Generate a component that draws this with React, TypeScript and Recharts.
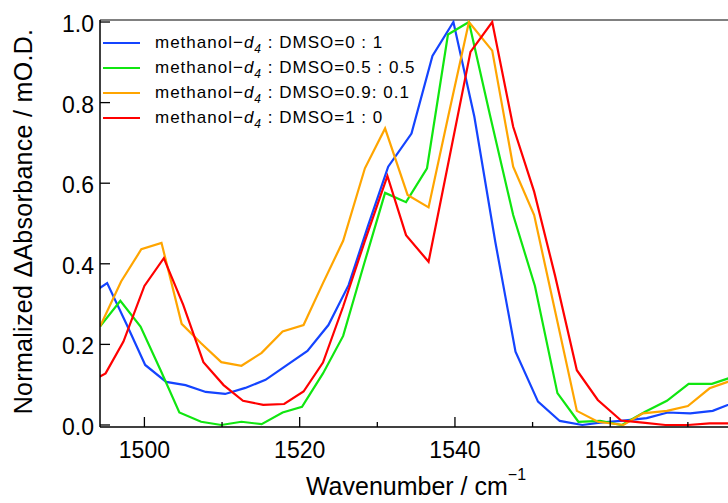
import { Line, LineChart, ReferenceLine, XAxis, YAxis } from 'recharts';

const FONT = '"Liberation Sans", Arial, sans-serif';

// wavenumber (cm^-1) / normalized ΔAbsorbance
const waveBlue = [
  1492.7, 1495.2, 1497.7, 1500.1, 1502.8, 1505.3, 1507.9, 1510.4, 1513.0, 1515.6, 1518.3,
  1521.0, 1523.7, 1526.3, 1528.8, 1531.4, 1534.4, 1537.1, 1539.8, 1542.5, 1545.2, 1547.8,
  1550.7, 1553.5, 1556.4, 1558.7, 1561.7, 1564.7, 1567.4, 1570.3, 1573.2, 1576.1,
];
const absBlue = [
  0.32, 0.352, 0.25, 0.149, 0.107, 0.099, 0.082, 0.077, 0.092, 0.112, 0.148,
  0.184, 0.248, 0.347, 0.494, 0.641, 0.723, 0.916, 1.0, 0.765, 0.454, 0.182,
  0.058, 0.01, 0.0, 0.006, 0.011, 0.017, 0.031, 0.029, 0.035, 0.057,
];

const waveGreen = [
  1494.3, 1496.9, 1499.5, 1502.1, 1504.5, 1507.3, 1509.9, 1512.5, 1515.1, 1517.8, 1520.3,
  1523.0, 1525.6, 1528.3, 1531.0, 1533.7, 1536.4, 1539.1, 1541.8, 1544.5, 1547.5, 1550.3,
  1553.2, 1555.9, 1558.7, 1561.5, 1564.5, 1567.3, 1570.1, 1573.1, 1575.9,
];
const absGreen = [
  0.245, 0.308, 0.244, 0.135, 0.031, 0.008, 0.0, 0.008, 0.002, 0.031, 0.045,
  0.128, 0.221, 0.4, 0.576, 0.553, 0.637, 0.969, 1.0, 0.77, 0.521, 0.345,
  0.079, 0.008, 0.01, 0.0, 0.033, 0.06, 0.102, 0.102, 0.12,
];

const waveOrange = [
  1494.3, 1497.0, 1499.6, 1502.2, 1504.8, 1507.3, 1509.9, 1512.5, 1515.1, 1517.8, 1520.5,
  1523.0, 1525.6, 1528.4, 1531.0, 1533.9, 1536.6, 1539.1, 1541.8, 1544.8, 1547.5, 1550.2,
  1553.2, 1555.7, 1558.4, 1561.7, 1564.2, 1567.3, 1570.0, 1572.8, 1575.7,
];
const absOrange = [
  0.245, 0.356, 0.436, 0.452, 0.251, 0.203, 0.156, 0.147, 0.179, 0.232, 0.248,
  0.352, 0.457, 0.637, 0.736, 0.571, 0.54, 0.763, 1.0, 0.929, 0.641, 0.521,
  0.256, 0.035, 0.008, 0.0, 0.029, 0.035, 0.047, 0.091, 0.111,
];

const waveRed = [
  1492.3, 1495.0, 1497.3, 1500.0, 1502.5, 1505.0, 1507.6, 1510.2, 1512.7, 1515.3, 1518.0,
  1520.5, 1523.0, 1525.6, 1528.4, 1531.3, 1533.7, 1536.6, 1539.3, 1542.0, 1544.8, 1547.5,
  1550.2, 1552.9, 1555.7, 1558.4, 1561.4, 1564.2, 1567.1, 1570.0, 1572.8, 1575.7,
];
const absRed = [
  0.1, 0.128, 0.207, 0.345, 0.414, 0.298, 0.156, 0.099, 0.06, 0.05, 0.052,
  0.083, 0.155, 0.294, 0.457, 0.618, 0.471, 0.405, 0.665, 0.926, 1.0, 0.74,
  0.579, 0.37, 0.136, 0.062, 0.011, 0.006, 0.0, 0.0, 0.004, 0.004,
];

const ratioLabels = ['0 : 1', '0.5 : 0.5', '0.9: 0.1', '1 : 0'];
const seriesColors = ['#1444ff', '#10e610', '#ffa500', '#ff0000'];

const xTicks = [1500, 1510, 1520, 1530, 1540, 1550, 1560, 1570];
const yTicks = [0, 0.2, 0.4, 0.6, 0.8, 1.0];
const X_DOMAIN: [number, number] = [1494.28, 1575.17];
const Y_DOMAIN: [number, number] = [-0.005, 1.005];

const zip = (xs: number[], ys: number[]) => xs.map((x, i) => ({ x, y: ys[i] }));

const series = [
  { key: 'blue', data: zip(waveBlue, absBlue) },
  { key: 'green', data: zip(waveGreen, absGreen) },
  { key: 'orange', data: zip(waveOrange, absOrange) },
  { key: 'red', data: zip(waveRed, absRed) },
];

function XTick({ x, y, payload }: any) {
  const major = payload.value % 20 === 0;
  return (
    <g>
      <line x1={x} x2={x} y1={y} y2={y - (major ? 10 : 5)} stroke="#000" strokeWidth={1.3} />
      {major && (
        <text x={x} y={y + 31} textAnchor="middle" fontSize={23} fontFamily={FONT} fill="#000">
          {payload.value}
        </text>
      )}
    </g>
  );
}

function YTick({ x, y, payload }: any) {
  return (
    <g>
      <line x1={x} x2={x + 10} y1={y} y2={y} stroke="#000" strokeWidth={1.3} />
      <text x={x - 6} y={y + 10} textAnchor="end" fontSize={23} fontFamily={FONT} fill="#000">
        {Number(payload.value).toFixed(1)}
      </text>
    </g>
  );
}

export default function App() {
  return (
    <div style={{ position: 'absolute', left: 0, top: 0, width: 728, height: 503, background: '#fff' }}>
      <LineChart width={728} height={503} margin={{ top: 20, right: 0, left: 0, bottom: 0 }}>
        <XAxis
          dataKey="x"
          type="number"
          domain={X_DOMAIN}
          allowDataOverflow
          ticks={xTicks}
          interval={0}
          height={76}
          tickSize={0}
          tickMargin={0}
          tickLine={false}
          axisLine={{ stroke: '#000', strokeWidth: 1.5 }}
          tick={<XTick />}
          label={{
            content: ({ viewBox }: any) => (
              <text
                x={viewBox.x + viewBox.width / 2 + 2}
                y={viewBox.y + 68}
                textAnchor="middle"
                fontSize={25}
                fontFamily={FONT}
                fill="#000"
              >
                Wavenumber / cm
                <tspan fontSize={16} dy={-15}>
                  −1
                </tspan>
              </text>
            ),
          }}
        />
        <YAxis
          type="number"
          domain={Y_DOMAIN}
          allowDataOverflow
          ticks={yTicks}
          interval={0}
          width={100}
          tickSize={0}
          tickMargin={0}
          tickLine={false}
          axisLine={{ stroke: '#000', strokeWidth: 1.5 }}
          tick={<YTick />}
          label={{
            content: ({ viewBox }: any) => {
              const cy = viewBox.y + viewBox.height / 2 - 2;
              return (
                <text
                  x={32}
                  y={cy}
                  transform={`rotate(-90, 32, ${cy})`}
                  textAnchor="middle"
                  fontSize={25}
                  letterSpacing={0.3}
                  fontFamily={FONT}
                  fill="#000"
                >
                  Normalized ΔAbsorbance / mO.D.
                </text>
              );
            },
          }}
        />
        <ReferenceLine y={Y_DOMAIN[1]} stroke="#808080" strokeWidth={2} />
        {series.map((s, i) => (
          <Line
            key={s.key}
            data={s.data}
            dataKey="y"
            type="linear"
            stroke={seriesColors[i]}
            strokeWidth={2.2}
            dot={false}
            activeDot={false}
            isAnimationActive={false}
          />
        ))}
      </LineChart>
      <div style={{ position: 'absolute', left: 103, top: 30, fontFamily: FONT, fontSize: 17, color: '#000' }}>
        {ratioLabels.map((r, i) => (
          <div key={r} style={{ height: 25, display: 'flex', alignItems: 'center', whiteSpace: 'nowrap' }}>
            <span style={{ display: 'inline-block', width: 37, height: 2, background: seriesColors[i] }} />
            <span style={{ marginLeft: 15, letterSpacing: 1 }}>
              methanol−<i>d</i>
              <span style={{ fontSize: 12, fontStyle: 'italic', position: 'relative', top: 5 }}>4</span>
              {' '}: DMSO={r}
            </span>
          </div>
        ))}
      </div>
    </div>
  );
}
